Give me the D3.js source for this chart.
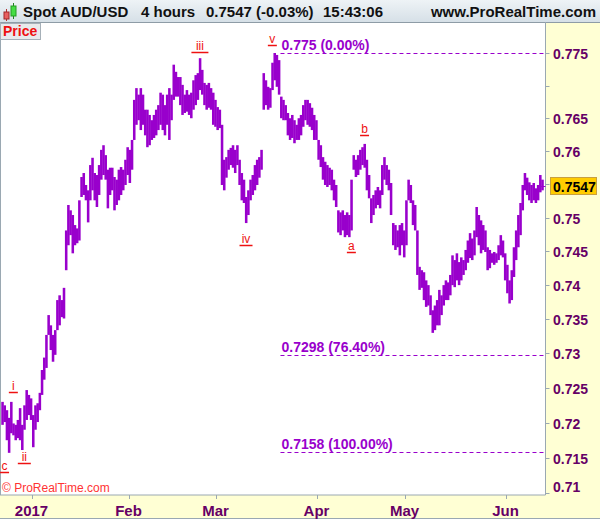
<!DOCTYPE html>
<html><head><meta charset="utf-8">
<script src="https://cdn.jsdelivr.net/npm/d3@7/dist/d3.min.js"></script>
<style>
body{margin:0;background:#fff;}
svg{display:block;font-family:Arial,"Liberation Sans",sans-serif;}
</style>
</head><body>
<svg id="chart" width="600" height="519"></svg>
<script>
// ---- data: half-day high / low columns (4-hour bars grouped), Dec 22 2016 .. Jun 13 2017
const highs = [
0.7230,0.7225,0.7218,0.7207,0.7230,0.7199,0.7197,0.7204,0.7221,0.7197,
0.7225,0.7247,0.7240,0.7235,0.7211,0.7225,0.7228,0.7243,0.7276,0.7294,
0.7327,0.7356,0.7341,0.7327,0.7334,0.7378,0.7385,0.7378,0.7396,0.7481,
0.7519,0.7511,0.7504,0.7489,0.7484,0.7526,0.7561,0.7567,0.7549,0.7541,
0.7579,0.7590,0.7567,0.7564,0.7579,0.7602,0.7609,0.7594,0.7572,0.7575,
0.7575,0.7561,0.7557,0.7572,0.7576,0.7572,0.7587,0.7606,0.7602,0.7617,
0.7678,0.7696,0.7686,0.7696,0.7686,0.7663,0.7663,0.7655,0.7647,0.7655,
0.7663,0.7670,0.7689,0.7686,0.7670,0.7686,0.7696,0.7686,0.7732,0.7721,
0.7713,0.7713,0.7701,0.7686,0.7693,0.7686,0.7689,0.7708,0.7716,0.7719,
0.7742,0.7724,0.7704,0.7701,0.7704,0.7696,0.7689,0.7678,0.7667,0.7663,
0.7640,0.7587,0.7591,0.7602,0.7605,0.7609,0.7602,0.7609,0.7587,0.7567,
0.7557,0.7531,0.7541,0.7557,0.7564,0.7579,0.7587,0.7591,0.7602,0.7719,
0.7708,0.7698,0.7696,0.7735,0.7750,0.7747,0.7739,0.7683,0.7678,0.7670,
0.7658,0.7650,0.7655,0.7647,0.7640,0.7650,0.7655,0.7670,0.7678,0.7678,
0.7673,0.7666,0.7655,0.7647,0.7617,0.7609,0.7591,0.7584,0.7579,0.7575,
0.7572,0.7557,0.7549,0.7511,0.7508,0.7511,0.7504,0.7508,0.7504,0.7557,
0.7594,0.7587,0.7594,0.7602,0.7606,0.7611,0.7587,0.7564,0.7529,0.7534,
0.7541,0.7546,0.7541,0.7579,0.7591,0.7579,0.7572,0.7552,0.7492,0.7489,
0.7481,0.7489,0.7492,0.7481,0.7526,0.7557,0.7549,0.7526,0.7519,0.7481,
0.7427,0.7422,0.7419,0.7407,0.7400,0.7385,0.7363,0.7370,0.7378,0.7393,
0.7385,0.7400,0.7407,0.7404,0.7415,0.7444,0.7437,0.7447,0.7434,0.7441,
0.7437,0.7452,0.7466,0.7477,0.7469,0.7481,0.7516,0.7504,0.7496,0.7489,
0.7481,0.7456,0.7452,0.7447,0.7449,0.7447,0.7459,0.7474,0.7466,0.7447,
0.7430,0.7407,0.7422,0.7456,0.7481,0.7504,0.7522,0.7549,0.7567,0.7560,
0.7553,0.7549,0.7552,0.7544,0.7549,0.7564,0.7557
];
const lows = [
0.7197,0.7201,0.7175,0.7157,0.7185,0.7182,0.7175,0.7178,0.7175,0.7161,
0.7190,0.7204,0.7211,0.7204,0.7165,0.7190,0.7201,0.7218,0.7240,0.7262,
0.7279,0.7327,0.7305,0.7288,0.7298,0.7334,0.7341,0.7353,0.7351,0.7422,
0.7459,0.7474,0.7447,0.7459,0.7462,0.7466,0.7531,0.7534,0.7526,0.7493,
0.7526,0.7541,0.7526,0.7516,0.7534,0.7557,0.7564,0.7557,0.7514,0.7534,
0.7541,0.7511,0.7519,0.7526,0.7534,0.7541,0.7549,0.7564,0.7552,0.7572,
0.7617,0.7640,0.7647,0.7632,0.7640,0.7624,0.7606,0.7609,0.7617,0.7620,
0.7624,0.7632,0.7640,0.7632,0.7624,0.7640,0.7617,0.7647,0.7678,0.7683,
0.7683,0.7670,0.7655,0.7658,0.7660,0.7655,0.7650,0.7663,0.7670,0.7678,
0.7693,0.7686,0.7670,0.7663,0.7666,0.7663,0.7640,0.7637,0.7632,0.7635,
0.7549,0.7541,0.7560,0.7572,0.7579,0.7575,0.7567,0.7579,0.7549,0.7526,
0.7522,0.7492,0.7504,0.7526,0.7534,0.7541,0.7549,0.7560,0.7572,0.7663,
0.7670,0.7663,0.7666,0.7693,0.7708,0.7698,0.7686,0.7650,0.7647,0.7647,
0.7624,0.7617,0.7620,0.7612,0.7617,0.7617,0.7624,0.7637,0.7647,0.7640,
0.7637,0.7632,0.7617,0.7617,0.7587,0.7576,0.7557,0.7549,0.7546,0.7549,
0.7541,0.7526,0.7516,0.7478,0.7474,0.7481,0.7471,0.7474,0.7471,0.7481,
0.7572,0.7561,0.7564,0.7572,0.7579,0.7575,0.7541,0.7529,0.7492,0.7504,
0.7514,0.7519,0.7514,0.7534,0.7557,0.7549,0.7541,0.7504,0.7459,0.7452,
0.7456,0.7444,0.7459,0.7441,0.7459,0.7526,0.7522,0.7489,0.7481,0.7415,
0.7393,0.7396,0.7378,0.7368,0.7370,0.7356,0.7330,0.7334,0.7341,0.7341,
0.7356,0.7370,0.7378,0.7378,0.7385,0.7400,0.7397,0.7407,0.7400,0.7407,
0.7415,0.7422,0.7433,0.7440,0.7437,0.7444,0.7471,0.7459,0.7447,0.7452,
0.7449,0.7422,0.7425,0.7433,0.7430,0.7433,0.7437,0.7444,0.7441,0.7407,
0.7388,0.7373,0.7378,0.7412,0.7437,0.7456,0.7474,0.7511,0.7541,0.7534,
0.7526,0.7522,0.7526,0.7522,0.7526,0.7538,0.7541
];
const monthLabels = ["2017","Feb","Mar","Apr","May","Jun"];
const monthStartBars = [14,58,98,144,184,230];
const priceTicks = [0.71,0.715,0.72,0.725,0.73,0.735,0.74,0.745,0.75,0.755,0.76,0.765,0.77,0.775];
const priceTickLabels = ["0.71","0.715","0.72","0.725","0.73","0.735","0.74","0.745","0.75","","0.76","0.765","","0.775"];
const fibLevels = [0.775,0.7298,0.7158];
const fibLabels = ["0.775 (0.00%)","0.7298 (76.40%)","0.7158 (100.00%)"];
const fibStartBar = 127.2;
const waveLabels = ["c","i","ii","iii","iv","v","a","b"];
const waveBars = [1,5,10,90,111,123,159,165];
const wavePrices = [0.7130,0.7244,0.7143,0.7752,0.7460,0.7762,0.7449,0.7624];
const lastPrice = 0.7547;
const lastPriceLabel = "0.7547";
const titleParts = ["Spot AUD/USD","4 hours","0.7547 (-0.03%)","15:43:06"];

// ---- layout
const svg = d3.select("#chart");
const W = 600, H = 519;
const plot = {left:0, top:22, right:545.5, bottom:495};
const nBars = highs.length;
const colW = 2.195;
const x = d3.scaleLinear().domain([0, nBars]).range([1.27, 1.27 + nBars*colW]);
const y = d3.scaleLog().domain([0.71, 0.775]).range([493, 53]);
const purple = "#9900cc";
const axisText = "#660066";
const yellow = "#ffffd4";

// backgrounds
svg.append("rect").attr("x",0).attr("y",0).attr("width",W).attr("height",H).attr("fill",yellow);
svg.append("rect").attr("x",plot.left).attr("y",plot.top).attr("width",plot.right-plot.left).attr("height",plot.bottom-plot.top).attr("fill","#ffffff");

// title bar
const defs = svg.append("defs");
const g1 = defs.append("linearGradient").attr("id","tb").attr("x1",0).attr("y1",0).attr("x2",0).attr("y2",1);
g1.append("stop").attr("offset","0%").attr("stop-color","#eef3f6");
g1.append("stop").attr("offset","100%").attr("stop-color","#d6e0e7");
svg.append("rect").attr("x",0).attr("y",0).attr("width",W).attr("height",22).attr("fill","url(#tb)");
svg.append("line").attr("x1",0).attr("x2",W).attr("y1",22.5).attr("y2",22.5).attr("stroke","#8e9ca6");

// icon
svg.append("line").attr("x1",6.5).attr("x2",6.5).attr("y1",9).attr("y2",21).attr("stroke","#b03030");
svg.append("rect").attr("x",4).attr("y",12).attr("width",5).attr("height",7).attr("fill","#e86060").attr("stroke","#a02828");
svg.append("line").attr("x1",13.5).attr("x2",13.5).attr("y1",3).attr("y2",19).attr("stroke","#208020");
svg.append("rect").attr("x",11).attr("y",6).attr("width",5).attr("height",10).attr("fill","#44dd44").attr("stroke","#229922");

const titleX = [23,141,206,323];
titleParts.forEach((t,i)=>{
  svg.append("text").attr("x",titleX[i]).attr("y",17).attr("font-size",15).attr("font-weight","bold").attr("fill","#111").text(t);
});
svg.append("text").attr("x",596).attr("y",17).attr("text-anchor","end").attr("font-size",15).attr("font-weight","bold").attr("fill","#111").text("www.ProRealTime.com");

// plot border
svg.append("line").attr("x1",0.5).attr("x2",0.5).attr("y1",plot.top).attr("y2",plot.bottom).attr("stroke","#9aa8b2");
svg.append("line").attr("x1",plot.right).attr("x2",plot.right).attr("y1",plot.top).attr("y2",plot.bottom).attr("stroke","#9aa8b2");
svg.append("line").attr("x1",0).attr("x2",plot.right).attr("y1",plot.bottom).attr("y2",plot.bottom).attr("stroke","#9aa8b2");
svg.append("line").attr("x1",0).attr("x2",W).attr("y1",H-0.5).attr("y2",H-0.5).attr("stroke","#9aa8b2");

// fib lines
fibLevels.forEach((lv,i)=>{
  const yy = Math.round(y(lv))+0.5;
  svg.append("line").attr("x1",x(fibStartBar)).attr("x2",plot.right).attr("y1",yy).attr("y2",yy)
    .attr("stroke",purple).attr("stroke-width",1).attr("stroke-dasharray","4,3");
  svg.append("text").attr("x",x(fibStartBar)+1).attr("y",yy-4).attr("font-size",14).attr("font-weight","bold")
    .attr("fill",purple).text(fibLabels[i]);
});

// bars
svg.append("g").selectAll("rect").data(highs).join("rect")
  .attr("x",(d,i)=>x(i))
  .attr("width",colW+0.35)
  .attr("y",d=>y(d))
  .attr("height",(d,i)=>Math.max(1,y(lows[i])-y(d)))
  .attr("fill",purple);

// wave labels
waveLabels.forEach((t,i)=>{
  const cx = x(waveBars[i]) + colW/2;
  const uy = Math.round(y(wavePrices[i])) + 0.5;
  svg.append("text").attr("x",cx).attr("y",uy-2.5).attr("text-anchor","middle").attr("font-size",12)
    .attr("fill","#ee1111").text(t);
  const w = Math.max(8, t.length*4+5);
  svg.append("line").attr("x1",cx-w/2).attr("x2",cx+w/2).attr("y1",uy).attr("y2",uy)
    .attr("stroke","#ee1111").attr("stroke-width",1.5);
});

// right axis
const ra = svg.append("g");
priceTicks.forEach((p,i)=>{
  const yy = Math.round(y(p))+0.5;
  ra.append("line").attr("x1",plot.right).attr("x2",plot.right+4).attr("y1",yy).attr("y2",yy).attr("stroke","#9aa8b2");
  if (priceTickLabels[i]) {
    ra.append("text").attr("x",553).attr("y",Math.min(yy,487)).attr("dy","0.36em").attr("font-size",14)
      .attr("font-weight","bold").attr("fill",axisText).text(priceTickLabels[i]);
  }
});

// last price marker
const ly = Math.round(y(lastPrice))+0.5;
svg.append("line").attr("x1",540).attr("x2",plot.right).attr("y1",ly).attr("y2",ly).attr("stroke",purple);
svg.append("rect").attr("x",550.5).attr("y",ly-9).attr("width",46).attr("height",17).attr("fill","#ffcc00").attr("stroke","#c8a040");
svg.append("text").attr("x",553).attr("y",ly).attr("dy","0.36em").attr("font-size",14).attr("font-weight","bold")
  .attr("fill","#000").text(lastPriceLabel);

// bottom axis
monthStartBars.forEach((b,i)=>{
  const xx = Math.round(x(b))+0.5;
  svg.append("line").attr("x1",xx).attr("x2",xx).attr("y1",plot.bottom).attr("y2",plot.bottom+4).attr("stroke","#9aa8b2");
  svg.append("text").attr("x",xx-1).attr("y",516).attr("text-anchor","middle").attr("font-size",15)
    .attr("font-weight","bold").attr("fill",axisText).text(monthLabels[i]);
});

// Price box
svg.append("rect").attr("x",0.5).attr("y",23.5).attr("width",40).attr("height",16).attr("fill","#e8eaec").attr("stroke","#a6b0b8");
svg.append("text").attr("x",3).attr("y",36).attr("font-size",14).attr("font-weight","bold").attr("fill","#ee1111").text("Price");

// copyright
svg.append("text").attr("x",2).attr("y",492).attr("font-size",12).attr("fill","#ff3333").text("© ProRealTime.com");
</script>
</body></html>
